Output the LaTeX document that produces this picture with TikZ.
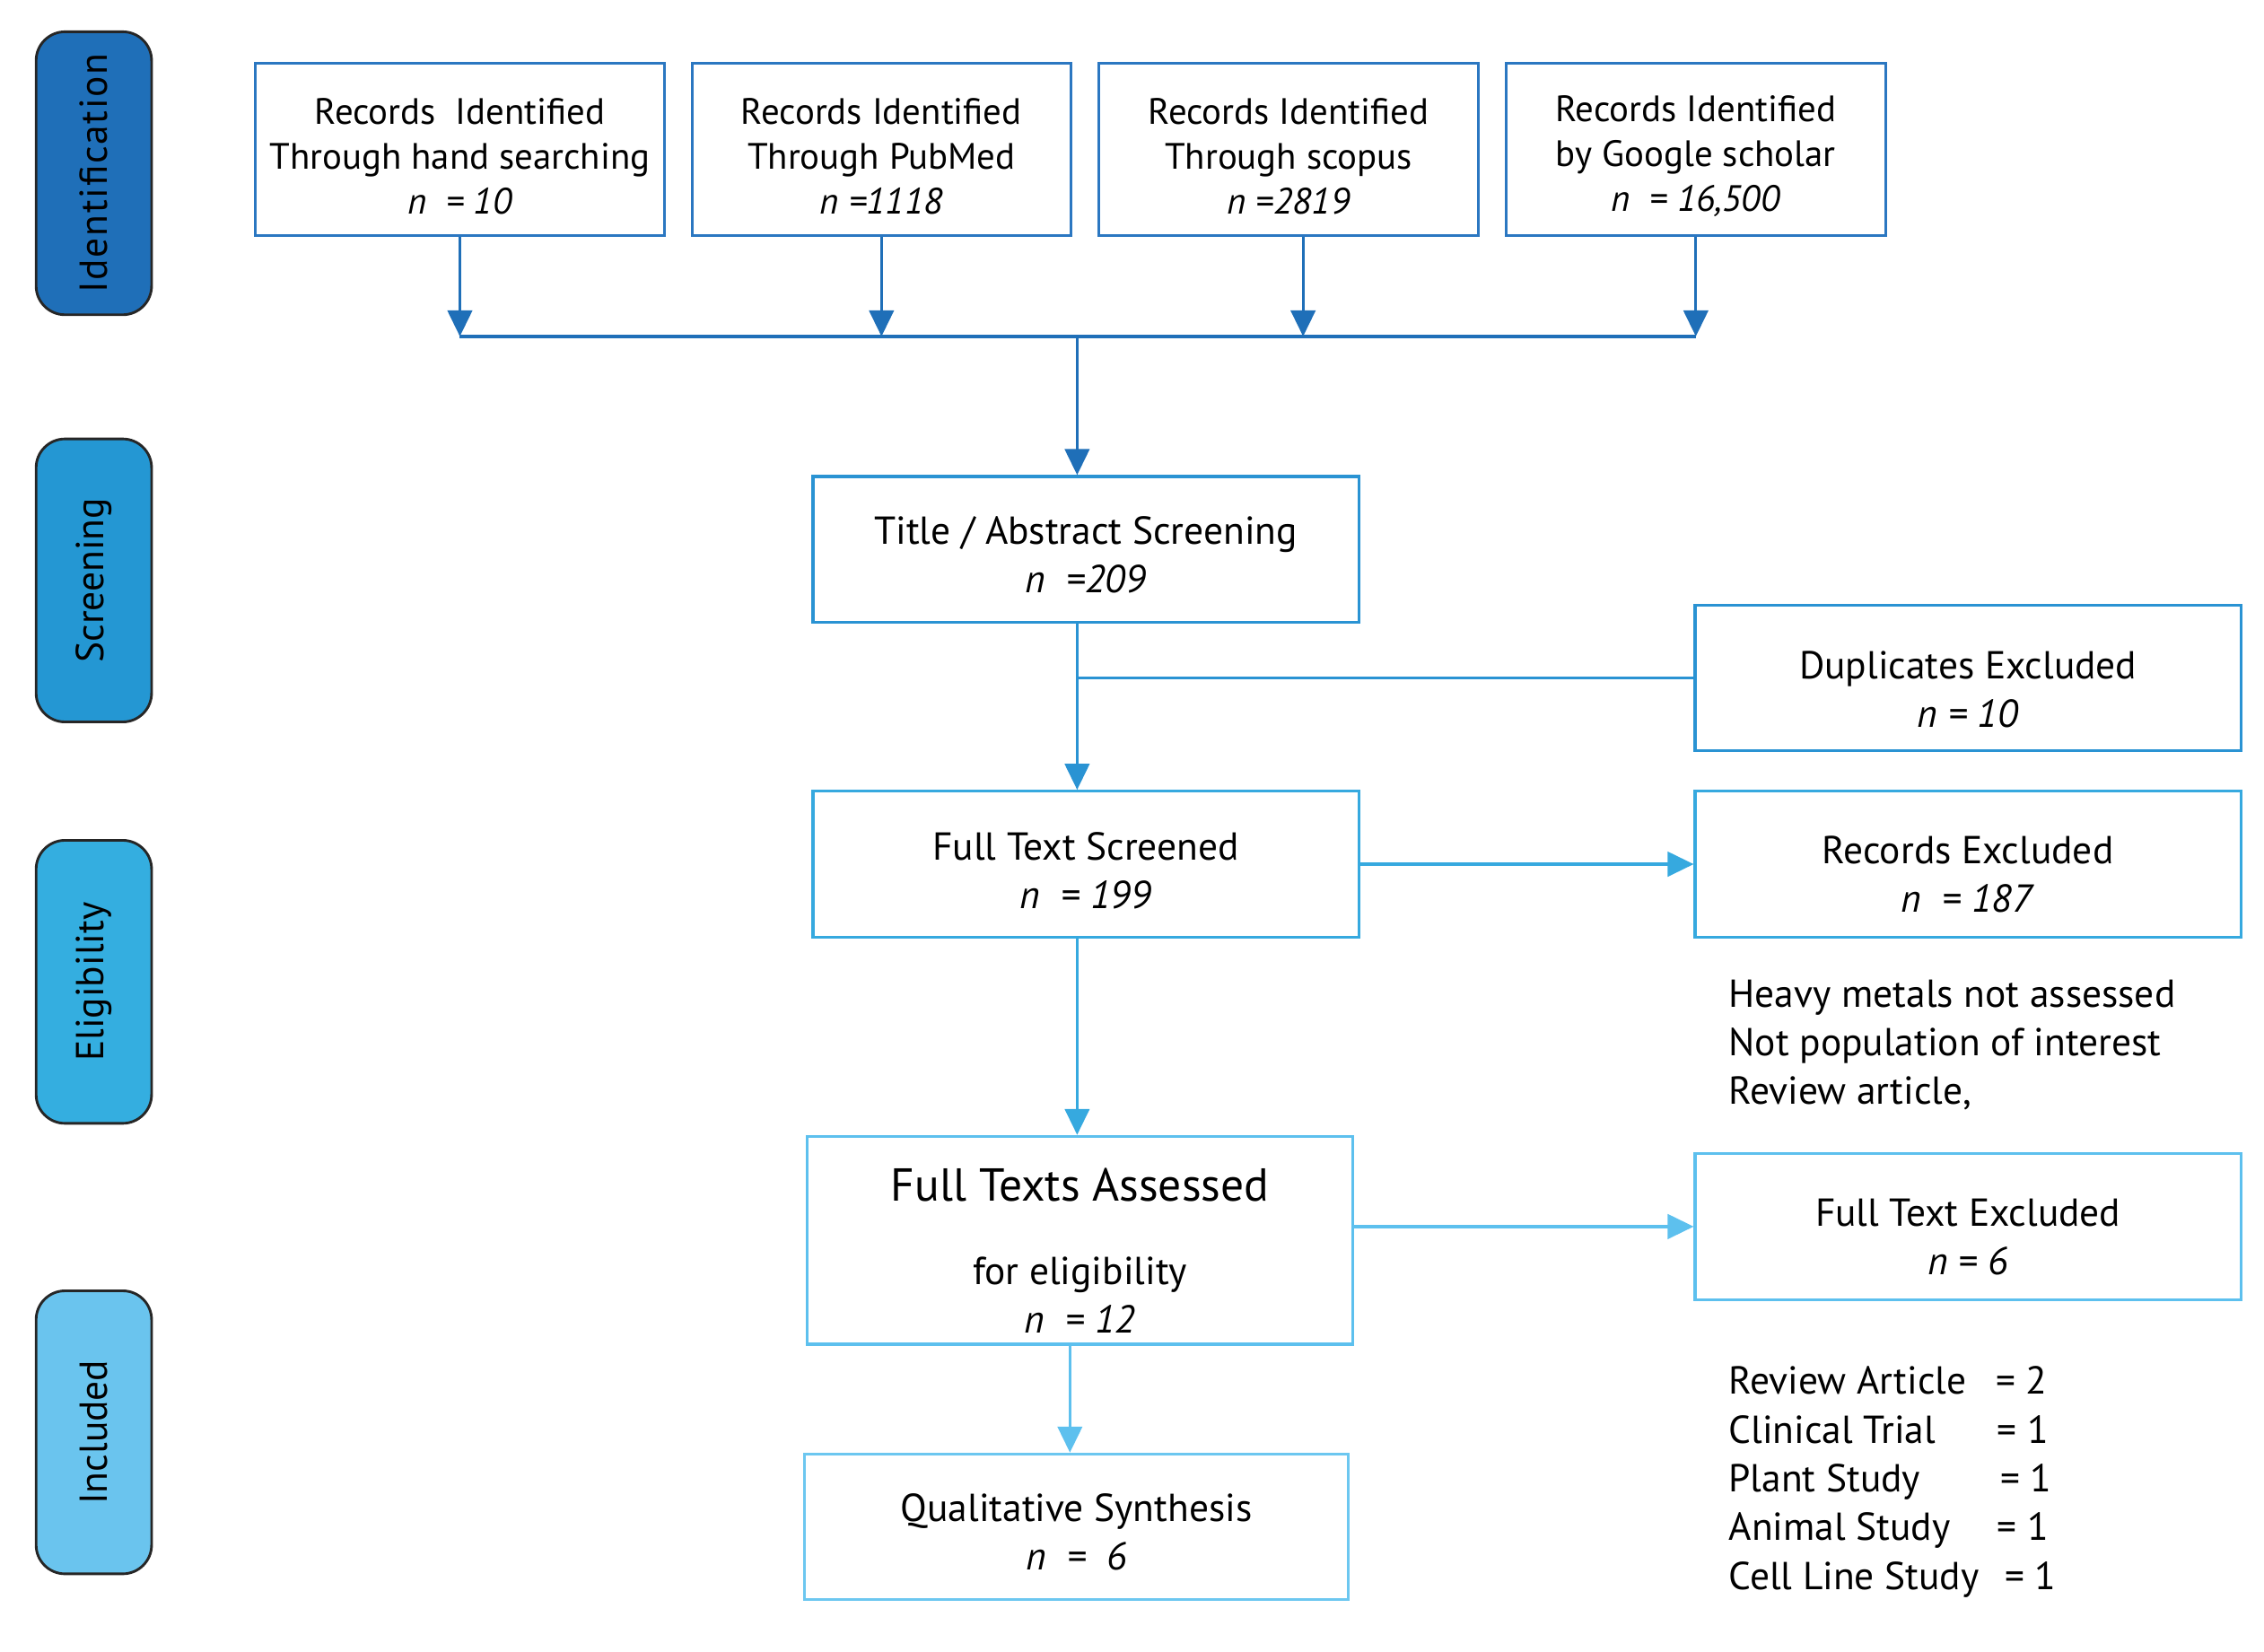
\documentclass[tikz,border=0pt]{standalone}
\usepackage{fontspec}
\setmainfont{PT Sans}
\usetikzlibrary{arrows.meta}

\definecolor{idfill}{HTML}{1F6FB8}
\definecolor{scfill}{HTML}{2497D3}
\definecolor{elfill}{HTML}{34AEE0}
\definecolor{infill}{HTML}{6AC4EE}
\definecolor{idline}{HTML}{2B77C1}
\definecolor{scline}{HTML}{2A93D3}
\definecolor{elline}{HTML}{36A9DF}
\definecolor{asline}{HTML}{5DC0EE}
\definecolor{inline}{HTML}{6CC7F0}

% raise the first line so the block sits lower in its box
\newcommand\sink[1]{\rule{0pt}{#1}}

\begin{document}
\begin{tikzpicture}[x=0.5pt,y=-0.5pt,
  box/.style={draw,line width=1pt,fill=white,align=center,inner sep=2pt,
    minimum width=189pt,minimum height=50.5pt,font=\fontsize{13.5}{16.75}\selectfont},
  srcbox/.style={box,draw=idline,minimum height=59.5pt,font=\fontsize{12.7}{15.5}\selectfont},
  phase/.style={draw=black!85,line width=0.9pt,rounded corners=10pt,rotate=90,
    minimum width=98pt,minimum height=40pt,inner sep=0pt,font=\fontsize{13.5}{15}\selectfont},
  link/.style={line width=1pt},
  tip/.style={-{Triangle[length=9pt,width=8.5pt]}},
  note/.style={anchor=north west,align=left,inner sep=0pt,font=\fontsize{13.5}{16.9}\selectfont}]
\useasboundingbox (0,0) rectangle (1568,1144);

% phase labels
\node[phase,fill=idfill] (ident) at (65,120) {\addfontfeature{LetterSpace=4}Identification};
\node[phase,fill=scfill] (screen) at (65,402) {Screening};
\node[phase,fill=elfill] (elig) at (65,680) {Eligibility};
\node[phase,fill=infill] (incl) at (65,992) {Included};

% sources
\node[srcbox,minimum width=141.5pt] (hand) at (318.5,103.5)
  {\sink{13.8pt}Records\ \ Identified\\Through hand searching\\\textit{n\ \ = 10}};
\node[srcbox,minimum width=131pt] (pubmed) at (610.5,103.5)
  {\sink{13.8pt}Records Identified\\Through PubMed\\\textit{n =1118}};
\node[srcbox,minimum width=131.5pt] (scopus) at (892.5,103.5)
  {\sink{13.8pt}Records Identified\\Through scopus\\\textit{n =2819}};
\node[srcbox,minimum width=131.5pt] (scholar) at (1174.5,103.5)
  {\sink{13.8pt}Records Identified\\by Google scholar\\\textit{n\ \ = 16,500}};
\coordinate (bar) at (746,233);

% main column
\node[box,draw=scline] (title) at (752,380.5) {\sink{13.2pt}Title / Abstract Screening\\\textit{n\ \ =209}};
\node[box,draw=scline] (dup) at (1363,469.5) {\sink{17.5pt}Duplicates Excluded\\\textit{n = 10}};
\node[box,draw=elline] (fts) at (752,598.5) {\sink{14pt}Full Text Screened\\\textit{n\ \ = 199}};
\node[box,draw=elline] (recex) at (1363,598.5) {\sink{16.5pt}Records Excluded\\\textit{n\ \ = 187}};
\node[box,draw=asline,minimum height=72pt] (fta) at (748,859)
  {{\fontsize{16}{19}\selectfont\sink{18.5pt}Full Texts Assessed}\\[12pt]for eligibility\\\textit{n\ \ = 12}};
\node[box,draw=asline] (ftex) at (1363,849.5) {\sink{16.5pt}Full Text Excluded\\\textit{n = 6}};
\node[box,draw=inline,minimum width=188.5pt] (qual) at (745.5,1057.5) {\sink{13.2pt}Qualitative Synthesis\\\textit{n\ \ =\ \ 6}};

% reasons
\node[note] (why) at (1197,678) {Heavy metals not assessed\\Not population of interest\\Review article,};
\node[note] (kinds) at (1197,946) {\makebox[92.5pt][l]{Review Article}= 2\\
  \makebox[93pt][l]{Clinical Trial}= 1\\
  \makebox[94pt][l]{Plant Study}= 1\\
  \makebox[93pt][l]{Animal Study}= 1\\
  \makebox[95.5pt][l]{Cell Line Study}= 1};

% connectors
\draw[link,idfill,tip] (hand.south) -- (hand.south |- bar);
\draw[link,idfill,tip] (pubmed.south) -- (pubmed.south |- bar);
\draw[link,idfill,tip] ([xshift=5pt]scopus.south) -- ([xshift=5pt]scopus.south |- bar);
\draw[link,idfill,tip] (scholar.south) -- (scholar.south |- bar);
\draw[link,idfill] (hand.south |- bar) -- (scholar.south |- bar);
\draw[link,idfill,tip] (bar) -- (bar |- title.north);
\draw[link,scline,tip] (bar |- title.south) -- (bar |- fts.north);
\draw[link,scline] (bar |- dup.west) -- (dup.west);
\draw[link,elline,tip] (fts.east) -- (recex.west);
\draw[link,elline,tip] (bar |- fts.south) -- (bar |- fta.north);
\draw[link,asline,tip] (fta.east |- ftex.west) -- (ftex.west);
\draw[link,asline,tip] ([xshift=-3.5pt]fta.south) -- ([xshift=-3.5pt]fta.south |- qual.north);
\end{tikzpicture}
\end{document}
